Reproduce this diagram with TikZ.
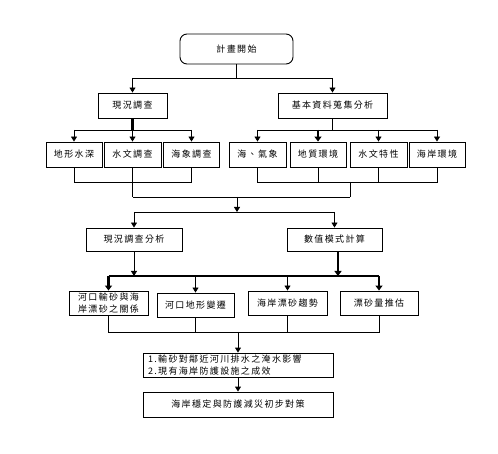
\documentclass[tikz,border=0pt]{standalone}
\usepackage{fontspec}
\newfontfamily\cjk[LetterSpace=15]{Noto Sans CJK TC}
\usetikzlibrary{arrows.meta,calc}
\tikzset{
  box/.style={draw, line width=0.9pt, inner sep=0pt, align=center,
    font=\cjk\fontsize{9}{12.5}\selectfont},
  ln/.style={line width=0.9pt},
  thk/.style={line width=2.3pt},
  arr/.style={line width=0.9pt, -{Triangle[width=6pt,length=5pt]}},
  tarr/.style={line width=2.3pt, -{Triangle[width=7pt,length=5pt]}},
}
\begin{document}
\begin{tikzpicture}[x=1pt,y=-1pt]
\useasboundingbox (0,0) rectangle (498,454);
\fill[white] (0,0) rectangle (498,454);

% nodes
\node[box, minimum width=113pt, minimum height=30pt, rounded corners=7pt] (start) at (236.5,49) {計畫開始};
\node[box, minimum width=69pt, minimum height=25pt] (xk) at (132.5,105.5) {現況調查};
\node[box, minimum width=109pt, minimum height=25pt] (jb) at (332.5,105.5) {基本資料蒐集分析};

\node[box, minimum width=56pt, minimum height=25pt] (a1) at (74,154.5) {地形水深};
\node[box, minimum width=57pt, minimum height=25pt] (a2) at (132.5,154.5) {水文調查};
\node[box, minimum width=56pt, minimum height=25pt] (a3) at (191.5,154.5) {海象調查};

\node[box, minimum width=57pt, minimum height=25pt] (b1) at (257.5,154.5) {海、氣象};
\node[box, minimum width=56pt, minimum height=25pt] (b2) at (318,154.5) {地質環境};
\node[box, minimum width=57pt, minimum height=25pt] (b3) at (378.5,154.5) {水文特性};
\node[box, minimum width=56pt, minimum height=25pt] (b4) at (437,154.5) {海岸環境};

\node[box, minimum width=96pt, minimum height=23pt] (c1) at (134,239.5) {現況調查分析};
\node[box, minimum width=95pt, minimum height=23pt] (c2) at (334.5,239.5) {數值模式計算};

\node[box, minimum width=79pt, minimum height=24pt] (d1) at (108.5,303) {河口輸砂與海\\岸漂砂之關係};
\node[box, minimum width=77pt, minimum height=24pt] (d2) at (195.5,305) {河口地形變遷};
\node[box, minimum width=79pt, minimum height=24pt] (d3) at (287.5,303) {海岸漂砂趨勢};
\node[box, minimum width=78pt, minimum height=24pt] (d4) at (379,303) {漂砂量推估};

\node[box, minimum width=190pt, minimum height=24pt, text width=180pt, align=left] (e1) at (238,365) {1.輸砂對鄰近河川排水之淹水影響\\2.現有海岸防護設施之成效};
\node[box, minimum width=190pt, minimum height=25pt] (e2) at (238,404.5) {海岸穩定與防護減災初步對策};

% level 1
\coordinate (j0) at (236.5,78);
\draw[ln] (start.south) -- (j0);
\draw[ln] (j0 -| xk) -- (j0 -| jb);
\draw[arr] (j0 -| xk) -- (xk.north);
\draw[arr] (j0 -| jb) -- (jb.north);

% fan of xk
\coordinate (j1) at (132.5,130);
\draw[thk] (xk.south) -- (j1 -| xk);
\draw[ln] (j1 -| a1) -- (j1 -| a3);
\draw[arr] (j1 -| a1) -- (a1.north);
\draw[arr] (j1 -| a2) -- (a2.north);
\draw[arr] (j1 -| a3) -- (a3.north);

% fan of jb
\coordinate (j2) at (332.5,130);
\draw[ln] (jb.south) -- (j2 -| jb);
\draw[ln] (j2 -| b1) -- (j2 -| b4);
\draw[arr] (j2 -| b1) -- (b1.north);
\draw[tarr] (j2 -| b2) -- (b2.north);
\draw[arr] (j2 -| b3) -- (b3.north);
\draw[arr] (j2 -| b4) -- (b4.north);

% collect a, b
\coordinate (k1) at (0,182);
\coordinate (k2) at (0,197);
\coordinate (m) at (350,182);
\draw[ln] (a1.south) -- (k1 -| a1) -- (k1 -| a3) -- (a3.south);
\draw[ln] (a2.south) -- (k2 -| a2);
\draw[ln] (b1.south) -- (k1 -| b1) -- (k1 -| b4) -- (b4.south);
\draw[ln] (b2.south) -- (k1 -| b2);
\draw[ln] (b3.south) -- (k1 -| b3);
\draw[ln] (m) -- (k2 -| m);
\draw[ln] (k2 -| a2) -- (k2 -| m);
\coordinate (n0) at (237,197);
\coordinate (n1) at (237,212);
\draw[arr] (n0) -- (n1);
\draw[ln] (n1 -| c1) -- (n1 -| c2);
\draw[arr] (n1 -| c1) -- (c1.north);
\draw[arr] (n1 -| c2) -- (c2.north);

% fan of c
\coordinate (p) at (0,276);
\coordinate (pc) at (338,276);
\draw[arr] (c1.south) -- (p -| c1);
\draw[tarr] (c2.south -| pc) -- (pc);
\draw[thk] (p -| d1) -- (p -| d4);
\draw[tarr] (p -| d1) -- (d1.north);
\draw[arr] (p -| d2) -- (d2.north);
\draw[arr] (p -| d3) -- (d3.north);
\draw[tarr] (p -| d4) -- (d4.north);

% collect d
\coordinate (q) at (0,332);
\draw[ln] (d1.south) -- (q -| d1) -- (q -| d4) -- (d4.south);
\draw[ln] (d2.south) -- (q -| d2);
\draw[ln] (d3.south) -- (q -| d3);
\draw[arr] (q -| e1) -- (e1.north);
\draw[arr] (e1) -- (e2);
\end{tikzpicture}
\end{document}
